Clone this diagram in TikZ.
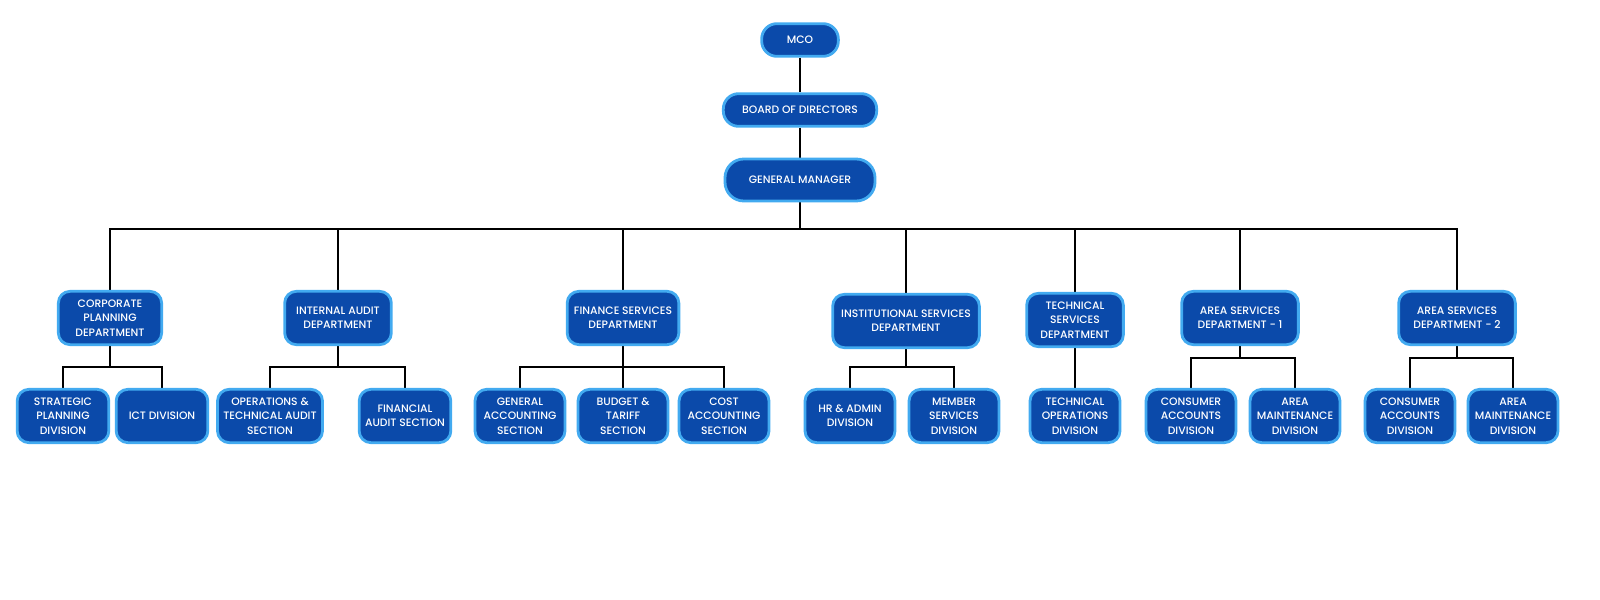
\documentclass[tikz,border=0pt]{standalone}
\usepackage{fontspec}
\setmainfont{Poppins Medium}
\definecolor{boxfill}{RGB}{11, 74, 170}
\definecolor{boxedge}{RGB}{66, 170, 240}
\usepackage{tikz}
\usetikzlibrary{positioning, backgrounds}
\tikzset{
    orgbox/.style={
        rectangle,
        draw=boxedge,
        line width=2.4pt,
        fill=boxfill,
        text=white,
        rounded corners=10pt,
        inner sep=1pt,
        align=center,
        font=\fontsize{9.2}{12.2}\selectfont
    },
    topbox/.style={orgbox, rounded corners=13pt},
    linkstyle/.style={-, line width=1.2pt, color=black}
}

\begin{document}
\begin{tikzpicture}[x=0.03cm, y=-0.03cm]
          \useasboundingbox (0,0) rectangle (1600,600);
          % top of the chart
          \node[topbox, minimum width=2.3cm, minimum height=0.98cm] (mco) at (800,40) {MCO};
          \node[topbox, minimum width=4.6cm, minimum height=0.98cm] (board) at (800,110) {BOARD OF DIRECTORS};
          \node[topbox, rounded corners=16pt, minimum width=4.5cm, minimum height=1.26cm] (gm) at (800,180) {GENERAL MANAGER};

          % departments
          \node[orgbox, minimum width=3.1cm, minimum height=1.6cm] (corp) at (110,318) {CORPORATE\\PLANNING\\DEPARTMENT};
          \node[orgbox, minimum width=3.2cm, minimum height=1.6cm] (audit) at (338,318) {INTERNAL AUDIT\\DEPARTMENT};
          \node[orgbox, minimum width=3.35cm, minimum height=1.6cm] (fin) at (623,318) {FINANCE SERVICES\\DEPARTMENT};
          \node[orgbox, minimum width=4.4cm, minimum height=1.6cm] (inst) at (906,321) {INSTITUTIONAL SERVICES\\DEPARTMENT};
          \node[orgbox, minimum width=2.9cm, minimum height=1.6cm] (tech) at (1075,320) {TECHNICAL\\SERVICES\\DEPARTMENT};
          \node[orgbox, minimum width=3.5cm, minimum height=1.6cm] (area1) at (1240,318) {AREA SERVICES\\DEPARTMENT - 1};
          \node[orgbox, minimum width=3.5cm, minimum height=1.6cm] (area2) at (1457,318) {AREA SERVICES\\DEPARTMENT - 2};

          % divisions and sections
          \node[orgbox, minimum width=2.75cm, minimum height=1.6cm] (strat) at (63,416) {STRATEGIC\\PLANNING\\DIVISION};
          \node[orgbox, minimum width=2.75cm, minimum height=1.6cm] (ict) at (162,416) {ICT DIVISION};
          \node[orgbox, minimum width=3.15cm, minimum height=1.6cm] (ops) at (270,416) {OPERATIONS \&\\TECHNICAL AUDIT\\SECTION};
          \node[orgbox, minimum width=2.75cm, minimum height=1.6cm] (finaud) at (405,416) {FINANCIAL\\AUDIT SECTION};
          \node[orgbox, minimum width=2.7cm, minimum height=1.6cm] (genacc) at (520,416) {GENERAL\\ACCOUNTING\\SECTION};
          \node[orgbox, minimum width=2.7cm, minimum height=1.6cm] (budget) at (623,416) {BUDGET \&\\TARIFF\\SECTION};
          \node[orgbox, minimum width=2.7cm, minimum height=1.6cm] (cost) at (724,416) {COST\\ACCOUNTING\\SECTION};
          \node[orgbox, minimum width=2.7cm, minimum height=1.6cm] (hr) at (850,416) {HR \& ADMIN\\DIVISION};
          \node[orgbox, minimum width=2.7cm, minimum height=1.6cm] (member) at (954,416) {MEMBER\\SERVICES\\DIVISION};
          \node[orgbox, minimum width=2.7cm, minimum height=1.6cm] (techops) at (1075,416) {TECHNICAL\\OPERATIONS\\DIVISION};
          \node[orgbox, minimum width=2.7cm, minimum height=1.6cm] (cons1) at (1191,416) {CONSUMER\\ACCOUNTS\\DIVISION};
          \node[orgbox, minimum width=2.7cm, minimum height=1.6cm] (maint1) at (1295,416) {AREA\\MAINTENANCE\\DIVISION};
          \node[orgbox, minimum width=2.7cm, minimum height=1.6cm] (cons2) at (1410,416) {CONSUMER\\ACCOUNTS\\DIVISION};
          \node[orgbox, minimum width=2.7cm, minimum height=1.6cm] (maint2) at (1513,416) {AREA\\MAINTENANCE\\DIVISION};

          % bus points
          \coordinate (bus) at (800,229);
          \coordinate (corpbus) at (110,367);
          \coordinate (auditbus) at (338,367);
          \coordinate (finbus) at (623,367);
          \coordinate (instbus) at (906,367);
          \coordinate (area1bus) at (1240,358);
          \coordinate (area2bus) at (1457,358);

          \begin{scope}[on background layer]
          \draw[linkstyle] (mco) -- (board);
          \draw[linkstyle] (board) -- (gm);
          \draw[linkstyle] (gm) -- (bus);
          \draw[linkstyle] (bus) -| (corp);
          \draw[linkstyle] (bus) -| (audit);
          \draw[linkstyle] (bus) -| (fin);
          \draw[linkstyle] (bus) -| (inst);
          \draw[linkstyle] (bus) -| (tech);
          \draw[linkstyle] (bus) -| (area1);
          \draw[linkstyle] (bus) -| (area2);

          \draw[linkstyle] (corp) -- (corpbus);
          \draw[linkstyle] (corpbus) -| (strat);
          \draw[linkstyle] (corpbus) -| (ict);
          \draw[linkstyle] (audit) -- (auditbus);
          \draw[linkstyle] (auditbus) -| (ops);
          \draw[linkstyle] (auditbus) -| (finaud);
          \draw[linkstyle] (fin) -- (finbus);
          \draw[linkstyle] (finbus) -| (genacc);
          \draw[linkstyle] (finbus) -- (budget);
          \draw[linkstyle] (finbus) -| (cost);
          \draw[linkstyle] (inst) -- (instbus);
          \draw[linkstyle] (instbus) -| (hr);
          \draw[linkstyle] (instbus) -| (member);
          \draw[linkstyle] (tech) -- (techops);
          \draw[linkstyle] (area1) -- (area1bus);
          \draw[linkstyle] (area1bus) -| (cons1);
          \draw[linkstyle] (area1bus) -| (maint1);
          \draw[linkstyle] (area2) -- (area2bus);
          \draw[linkstyle] (area2bus) -| (cons2);
          \draw[linkstyle] (area2bus) -| (maint2);
          \end{scope}
        \end{tikzpicture}
\end{document}
